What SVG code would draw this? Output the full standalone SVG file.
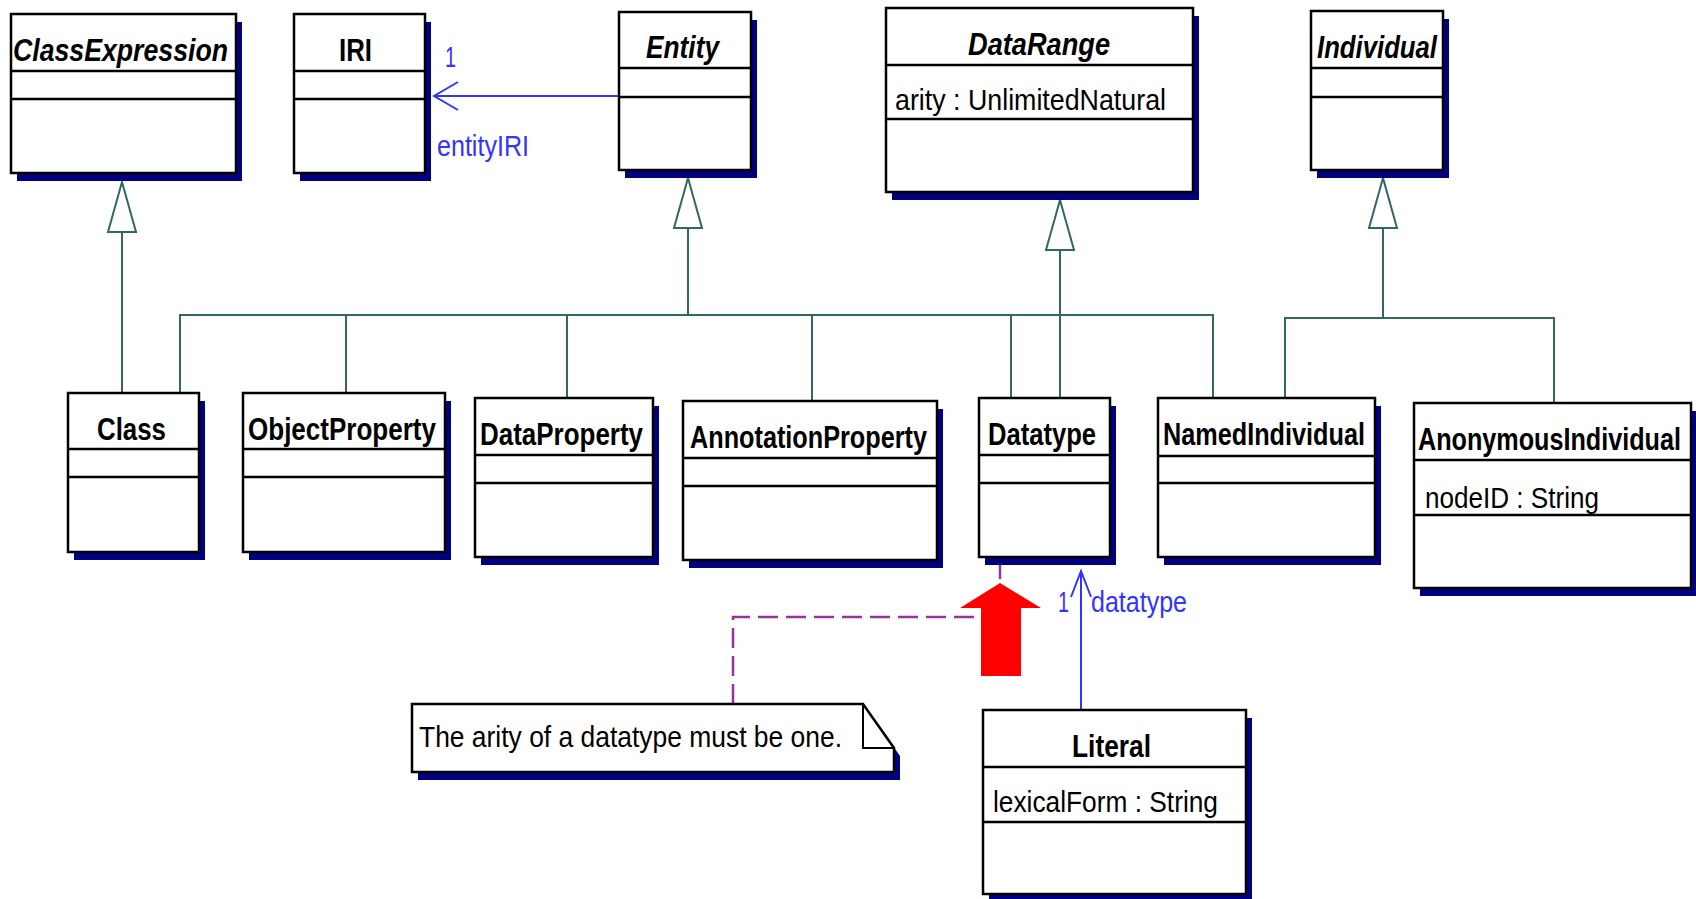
<svg xmlns="http://www.w3.org/2000/svg" width="1696" height="899" viewBox="0 0 1696 899">
  <style>
    .shadow { fill: #000080; }
    .box { fill: #ffffff; stroke: #000000; stroke-width: 2.5; }
    .div { stroke: #000000; stroke-width: 2.5; }
    .t { font-family: "Liberation Sans", Arial, sans-serif; font-size: 31px; fill: #000000; }
    .title { font-weight: bold; }
    .abstract { font-weight: bold; font-style: italic; }
    .attr { font-size: 30px; }
    .blue { fill: #3333ff; font-size: 29px; }
    .gen { fill: none; stroke: #336666; stroke-width: 2; }
    .assoc { fill: none; stroke: #3333ff; stroke-width: 2; }
    .anchor { fill: none; stroke: #993399; stroke-width: 2.5; stroke-dasharray: 20 8; }
  </style>
  <defs>
    <!-- hollow generalization triangle, apex at the path end -->
    <marker id="genHead" markerUnits="userSpaceOnUse" viewBox="-2 -2 54 32" markerWidth="54" markerHeight="32" refX="50" refY="14" orient="auto" overflow="visible">
      <path d="M0,0 L50,14 L0,28 Z" fill="#ffffff" stroke="#336666" stroke-width="2"/>
    </marker>
    <!-- open navigability arrows -->
    <marker id="openWide" markerUnits="userSpaceOnUse" viewBox="-2 -2 28 32" markerWidth="28" markerHeight="32" refX="24" refY="14" orient="auto" overflow="visible">
      <path d="M0,0 L24,14 L0,28" fill="none" stroke="#3333ff" stroke-width="2"/>
    </marker>
    <marker id="openNarrow" markerUnits="userSpaceOnUse" viewBox="-2 -2 30 24" markerWidth="30" markerHeight="24" refX="26" refY="10" orient="auto" overflow="visible">
      <path d="M0,0 L26,10 L0,20" fill="none" stroke="#3333ff" stroke-width="2"/>
    </marker>
  </defs>

  <rect width="1696" height="899" fill="#ffffff"/>

  <!-- connectors -->
  <g id="connectors">
    <!-- ClassExpression <- Class -->
    <path class="gen" d="M122,393 V182" marker-end="url(#genHead)"/>
    <!-- Entity hierarchy -->
    <path class="gen" d="M180,393 V315 H1213 V398"/>
    <path class="gen" d="M346,393 V315"/>
    <path class="gen" d="M567,398 V315"/>
    <path class="gen" d="M812,401 V315"/>
    <path class="gen" d="M1011,398 V315"/>
    <path class="gen" d="M688,315 V178" marker-end="url(#genHead)"/>
    <!-- DataRange <- Datatype -->
    <path class="gen" d="M1060,398 V200" marker-end="url(#genHead)"/>
    <!-- Individual hierarchy -->
    <path class="gen" d="M1285,398 V318 H1554 V403"/>
    <path class="gen" d="M1383,318 V178" marker-end="url(#genHead)"/>
    <!-- Entity -> IRI -->
    <path class="assoc" d="M619,96 H434" marker-end="url(#openWide)"/>
    <text class="t blue" x="445" y="67" textLength="11" lengthAdjust="spacingAndGlyphs">1</text>
    <text class="t blue" x="437" y="156" textLength="92" lengthAdjust="spacingAndGlyphs">entityIRI</text>
    <!-- Literal -> Datatype -->
    <path class="assoc" d="M1081,710 V571" marker-end="url(#openNarrow)"/>
    <text class="t blue" x="1058" y="612" textLength="11" lengthAdjust="spacingAndGlyphs">1</text>
    <text class="t blue" x="1091" y="612" textLength="96" lengthAdjust="spacingAndGlyphs">datatype</text>
    <!-- note anchor -->
    <path class="anchor" d="M1000,559 V617 H733 V704"/>
  </g>

  <g id="ClassExpression">
    <rect class="shadow" x="17" y="22" width="225" height="159"/>
    <rect class="box" x="11" y="14" width="225" height="159"/>
    <line class="div" x1="11" y1="71" x2="236" y2="71"/>
    <line class="div" x1="11" y1="99" x2="236" y2="99"/>
    <text class="t abstract" x="13" y="61" textLength="215" lengthAdjust="spacingAndGlyphs">ClassExpression</text>
  </g>

  <g id="IRI">
    <rect class="shadow" x="300" y="22" width="131" height="159"/>
    <rect class="box" x="294" y="14" width="131" height="159"/>
    <line class="div" x1="294" y1="71" x2="425" y2="71"/>
    <line class="div" x1="294" y1="99" x2="425" y2="99"/>
    <text class="t title" x="339" y="61" textLength="33" lengthAdjust="spacingAndGlyphs">IRI</text>
  </g>

  <g id="Entity">
    <rect class="shadow" x="625" y="20" width="132" height="158"/>
    <rect class="box" x="619" y="12" width="132" height="158"/>
    <line class="div" x1="619" y1="68" x2="751" y2="68"/>
    <line class="div" x1="619" y1="97" x2="751" y2="97"/>
    <text class="t abstract" x="646" y="58" textLength="73" lengthAdjust="spacingAndGlyphs">Entity</text>
  </g>

  <g id="DataRange">
    <rect class="shadow" x="892" y="16" width="307" height="184"/>
    <rect class="box" x="886" y="8" width="307" height="184"/>
    <line class="div" x1="886" y1="65" x2="1193" y2="65"/>
    <line class="div" x1="886" y1="119" x2="1193" y2="119"/>
    <text class="t abstract" x="968" y="55" textLength="142" lengthAdjust="spacingAndGlyphs">DataRange</text>
    <text class="t attr" x="895" y="110" textLength="271" lengthAdjust="spacingAndGlyphs">arity : UnlimitedNatural</text>
  </g>

  <g id="Individual">
    <rect class="shadow" x="1317" y="19" width="132" height="159"/>
    <rect class="box" x="1311" y="11" width="132" height="159"/>
    <line class="div" x1="1311" y1="68" x2="1443" y2="68"/>
    <line class="div" x1="1311" y1="97" x2="1443" y2="97"/>
    <text class="t abstract" x="1317" y="58" textLength="120" lengthAdjust="spacingAndGlyphs">Individual</text>
  </g>

  <g id="Class">
    <rect class="shadow" x="74" y="401" width="131" height="159"/>
    <rect class="box" x="68" y="393" width="131" height="159"/>
    <line class="div" x1="68" y1="449" x2="199" y2="449"/>
    <line class="div" x1="68" y1="477" x2="199" y2="477"/>
    <text class="t title" x="97" y="440" textLength="69" lengthAdjust="spacingAndGlyphs">Class</text>
  </g>

  <g id="ObjectProperty">
    <rect class="shadow" x="249" y="401" width="202" height="159"/>
    <rect class="box" x="243" y="393" width="202" height="159"/>
    <line class="div" x1="243" y1="449" x2="445" y2="449"/>
    <line class="div" x1="243" y1="477" x2="445" y2="477"/>
    <text class="t title" x="248" y="440" textLength="188" lengthAdjust="spacingAndGlyphs">ObjectProperty</text>
  </g>

  <g id="DataProperty">
    <rect class="shadow" x="481" y="406" width="178" height="159"/>
    <rect class="box" x="475" y="398" width="178" height="159"/>
    <line class="div" x1="475" y1="455" x2="653" y2="455"/>
    <line class="div" x1="475" y1="483" x2="653" y2="483"/>
    <text class="t title" x="480" y="445" textLength="163" lengthAdjust="spacingAndGlyphs">DataProperty</text>
  </g>

  <g id="AnnotationProperty">
    <rect class="shadow" x="689" y="409" width="254" height="159"/>
    <rect class="box" x="683" y="401" width="254" height="159"/>
    <line class="div" x1="683" y1="458" x2="937" y2="458"/>
    <line class="div" x1="683" y1="486" x2="937" y2="486"/>
    <text class="t title" x="690" y="448" textLength="237" lengthAdjust="spacingAndGlyphs">AnnotationProperty</text>
  </g>

  <g id="Datatype">
    <rect class="shadow" x="985" y="406" width="131" height="159"/>
    <rect class="box" x="979" y="398" width="131" height="159"/>
    <line class="div" x1="979" y1="455" x2="1110" y2="455"/>
    <line class="div" x1="979" y1="483" x2="1110" y2="483"/>
    <text class="t title" x="988" y="445" textLength="108" lengthAdjust="spacingAndGlyphs">Datatype</text>
  </g>

  <g id="NamedIndividual">
    <rect class="shadow" x="1164" y="406" width="217" height="159"/>
    <rect class="box" x="1158" y="398" width="217" height="159"/>
    <line class="div" x1="1158" y1="456" x2="1375" y2="456"/>
    <line class="div" x1="1158" y1="483" x2="1375" y2="483"/>
    <text class="t title" x="1163" y="445" textLength="202" lengthAdjust="spacingAndGlyphs">NamedIndividual</text>
  </g>

  <g id="AnonymousIndividual">
    <rect class="shadow" x="1420" y="411" width="277" height="185"/>
    <rect class="box" x="1414" y="403" width="277" height="185"/>
    <line class="div" x1="1414" y1="460" x2="1691" y2="460"/>
    <line class="div" x1="1414" y1="515" x2="1691" y2="515"/>
    <!-- long title: smaller size stretched vertically to keep the same cap height -->
    <text class="t title" transform="translate(1418,450) scale(1,1.19)" x="0" y="0" style="font-size:26px" textLength="263" lengthAdjust="spacingAndGlyphs">AnonymousIndividual</text>
    <text class="t attr" x="1425" y="508" textLength="174" lengthAdjust="spacingAndGlyphs">nodeID : String</text>
  </g>

  <g id="Literal">
    <rect class="shadow" x="989" y="718" width="263" height="184"/>
    <rect class="box" x="983" y="710" width="263" height="184"/>
    <line class="div" x1="983" y1="767" x2="1246" y2="767"/>
    <line class="div" x1="983" y1="822" x2="1246" y2="822"/>
    <text class="t title" x="1072" y="757" textLength="79" lengthAdjust="spacingAndGlyphs">Literal</text>
    <text class="t attr" x="993" y="812" textLength="225" lengthAdjust="spacingAndGlyphs">lexicalForm : String</text>
  </g>

  <g id="note">
    <polygon class="shadow" points="418,712 869,712 900,756 900,780 418,780"/>
    <polygon class="box" points="412,704 863,704 894,748 894,772 412,772"/>
    <polyline fill="none" stroke="#000000" stroke-width="2" points="863,704 863,748 894,748"/>
    <text class="t attr" x="419" y="747" textLength="423" lengthAdjust="spacingAndGlyphs">The arity of a datatype must be one.</text>
  </g>

  <g id="highlight-arrow">
    <polygon fill="#ff0000" points="1000,583 1041,608 1021,608 1021,676 981,676 981,608 960,608"/>
  </g>
</svg>
